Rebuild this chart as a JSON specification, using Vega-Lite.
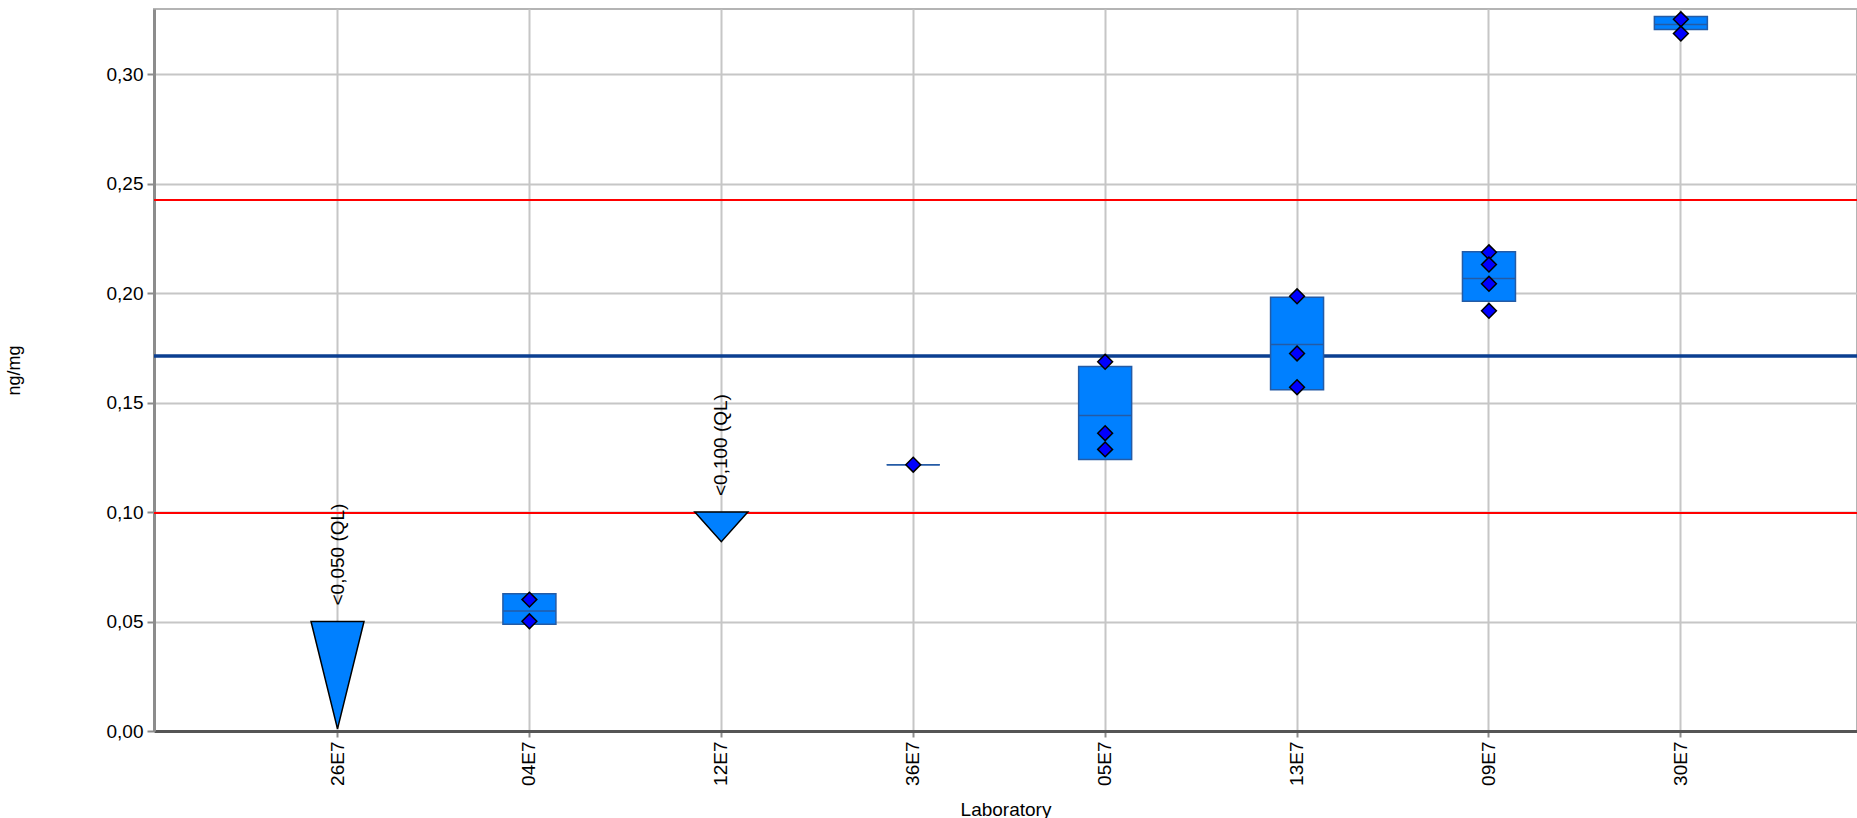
{
  "$schema": "https://vega.github.io/schema/vega-lite/v6.json",
  "width": 1703,
  "height": 722,
  "autosize": {"type": "none"},
  "padding": {"left": 154, "top": 9, "right": 0, "bottom": 87},
  "background": "white",
  "config": {
    "view": {"stroke": "#b4b4b4", "strokeWidth": 2},
    "font": "Liberation Sans"
  },
  "datasets": {
    "boxes": [
      {"lab": "04E7", "q1": 0.0487, "median": 0.0548, "q3": 0.0627},
      {"lab": "36E7", "q1": 0.1216, "median": 0.1216, "q3": 0.1216},
      {"lab": "05E7", "q1": 0.1240, "median": 0.1441, "q3": 0.1665},
      {"lab": "13E7", "q1": 0.1558, "median": 0.1765, "q3": 0.1981},
      {"lab": "09E7", "q1": 0.1963, "median": 0.2066, "q3": 0.2189},
      {"lab": "30E7", "q1": 0.3203, "median": 0.3226, "q3": 0.3263}
    ],
    "results": [
      {"lab": "04E7", "value": 0.0600},
      {"lab": "04E7", "value": 0.0501},
      {"lab": "36E7", "value": 0.1216},
      {"lab": "05E7", "value": 0.1686},
      {"lab": "05E7", "value": 0.1360},
      {"lab": "05E7", "value": 0.1286},
      {"lab": "13E7", "value": 0.1985},
      {"lab": "13E7", "value": 0.1724},
      {"lab": "13E7", "value": 0.1570},
      {"lab": "09E7", "value": 0.2186},
      {"lab": "09E7", "value": 0.2130},
      {"lab": "09E7", "value": 0.2042},
      {"lab": "09E7", "value": 0.1919},
      {"lab": "30E7", "value": 0.3250},
      {"lab": "30E7", "value": 0.3185}
    ],
    "limits": [
      {"kind": "lower", "value": 0.0995},
      {"kind": "upper", "value": 0.2425},
      {"kind": "assigned", "value": 0.1712}
    ],
    "ql": [
      {"lab": "26E7", "ql": 0.05, "label": "<0,050 (QL)"},
      {"lab": "12E7", "ql": 0.1, "label": "<0,100 (QL)"}
    ]
  },
  "layer": [
    {
      "data": {"name": "limits"},
      "transform": [{"filter": "datum.kind !== 'assigned'"}],
      "mark": {"type": "rule", "color": "#ff0000", "strokeWidth": 2},
      "encoding": {
        "y": {
          "field": "value",
          "type": "quantitative",
          "scale": {"domain": [0, 0.3297], "nice": false, "zero": false},
          "axis": {
            "values": [0, 0.05, 0.1, 0.15, 0.2, 0.25, 0.3],
            "labelExpr": "replace(format(datum.value, '.2f'), '.', ',')",
            "labelFontSize": 19,
            "labelColor": "#000000",
            "labelPadding": 4,
            "tickSize": 7,
            "tickColor": "#8c8c8c",
            "tickWidth": 2,
            "domainColor": "#8c8c8c",
            "domainWidth": 3,
            "grid": true,
            "gridColor": "#c6c6c6",
            "gridWidth": 2,
            "title": "ng/mg",
            "titleFontSize": 18,
            "titleFontWeight": "normal",
            "titleColor": "#000000",
            "titleAngle": 270,
            "titleAlign": "center",
            "titleBaseline": "middle",
            "titleX": -140,
            "titleY": 361
          }
        }
      }
    },
    {
      "data": {"name": "limits"},
      "transform": [{"filter": "datum.kind === 'assigned'"}],
      "mark": {"type": "rule", "color": "#0b3f91", "strokeWidth": 3.5},
      "encoding": {"y": {"field": "value", "type": "quantitative"}}
    },
    {
      "data": {"name": "boxes"},
      "mark": {"type": "bar", "width": 53, "fill": "#0080ff", "stroke": "#245ba5", "strokeWidth": 1.5, "opacity": 1},
      "encoding": {
        "x": {
          "field": "lab",
          "type": "nominal",
          "sort": null,
          "scale": {
            "type": "band",
            "domain": ["26E7", "04E7", "12E7", "36E7", "05E7", "13E7", "09E7", "30E7"],
            "paddingInner": 0,
            "paddingOuter": 0.437,
            "align": 0.522
          },
          "axis": {
            "labelAngle": 270,
            "labelFontSize": 19,
            "labelColor": "#000000",
            "labelPadding": 4,
            "tickSize": 6,
            "tickColor": "#8c8c8c",
            "tickWidth": 2,
            "domainColor": "#555555",
            "domainWidth": 3,
            "grid": true,
            "gridColor": "#c6c6c6",
            "gridWidth": 2,
            "title": "Laboratory",
            "titleFontSize": 19,
            "titleFontWeight": "normal",
            "titleColor": "#000000",
            "titleBaseline": "middle",
            "titleY": 78
          }
        },
        "y": {"field": "q1", "type": "quantitative"},
        "y2": {"field": "q3"}
      }
    },
    {
      "data": {"name": "boxes"},
      "mark": {"type": "tick", "size": 53, "thickness": 1.5, "color": "#245ba5", "opacity": 1},
      "encoding": {
        "x": {"field": "lab", "type": "nominal"},
        "y": {"field": "median", "type": "quantitative"}
      }
    },
    {
      "data": {"name": "ql"},
      "transform": [{"filter": "datum.lab === '26E7'"}],
      "mark": {"type": "point", "shape": "M-1,0L1,0L0,4.05Z", "size": 2809, "filled": true, "fill": "#0080ff", "stroke": "#000000", "strokeWidth": 1.5, "opacity": 1},
      "encoding": {
        "x": {"field": "lab", "type": "nominal"},
        "y": {"field": "ql", "type": "quantitative"}
      }
    },
    {
      "data": {"name": "ql"},
      "transform": [{"filter": "datum.lab === '12E7'"}],
      "mark": {"type": "point", "shape": "M-1,0L1,0L0,1.12Z", "size": 2809, "filled": true, "fill": "#0080ff", "stroke": "#000000", "strokeWidth": 1.5, "opacity": 1},
      "encoding": {
        "x": {"field": "lab", "type": "nominal"},
        "y": {"field": "ql", "type": "quantitative"}
      }
    },
    {
      "data": {"name": "results"},
      "mark": {"type": "point", "shape": "diamond", "size": 220, "filled": true, "fill": "#0000ff", "stroke": "#000000", "strokeWidth": 1.5, "opacity": 1},
      "encoding": {
        "x": {"field": "lab", "type": "nominal"},
        "y": {"field": "value", "type": "quantitative"}
      }
    },
    {
      "data": {"name": "ql"},
      "mark": {"type": "text", "angle": 270, "align": "left", "baseline": "middle", "dx": 16, "fontSize": 19, "color": "#000000"},
      "encoding": {
        "x": {"field": "lab", "type": "nominal"},
        "y": {"field": "ql", "type": "quantitative"},
        "text": {"field": "label"}
      }
    }
  ]
}
